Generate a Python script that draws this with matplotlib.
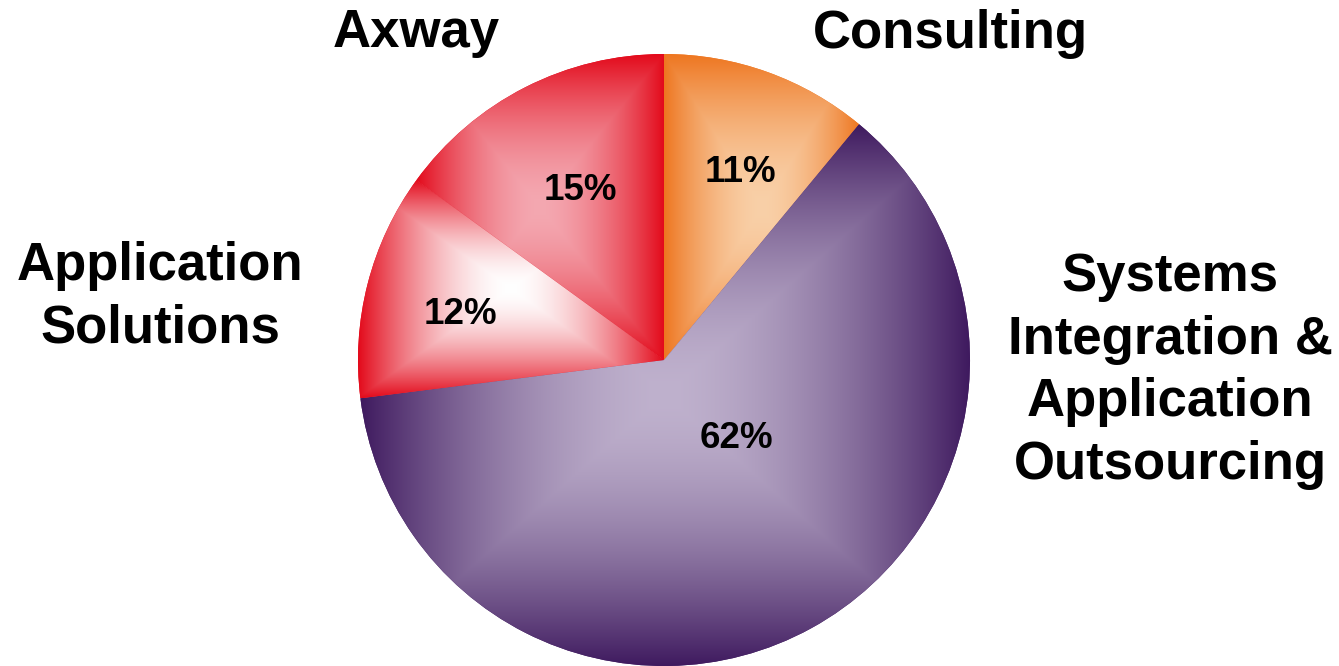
import numpy as np
import matplotlib
matplotlib.use("Agg")
import matplotlib.pyplot as plt
from matplotlib.colors import to_rgb

# ---- data ----
categories = ["Consulting", "Systems\nIntegration &\nApplication\nOutsourcing",
              "Application\nSolutions", "Axway"]
values = [11, 62, 12, 15]
pct_labels = ["11%", "62%", "12%", "15%"]
edge_colors = ["#EE7620", "#3F1A5F", "#E30A1B", "#E30A1B"]
center_colors = ["#F9D0A8", "#BFB1CD", "#FFFFFF", "#F4A8B1"]

W, H = 1339, 666
CX, CY, R = 664, 360, 306  # pixel geometry of pie


def px(x, y):
    return (x - CX) / R, (CY - y) / R


fig = plt.figure(figsize=(W / 100, H / 100), dpi=100)
ax = fig.add_axes([0, 0, 1, 1])
wedges, _ = ax.pie(values, startangle=90, counterclock=False, radius=1,
                   colors=edge_colors, frame=True,
                   wedgeprops=dict(linewidth=0))
ax.set_xlim(px(0, 0)[0], px(W, 0)[0])
ax.set_ylim(px(0, H)[1], px(0, 0)[1])
ax.set_aspect("auto")
ax.axis("off")

for w, c_edge, c_mid in zip(wedges, edge_colors, center_colors):
    bb = w.get_path().get_extents()
    x0, y0, x1, y1 = bb.x0, bb.y0, bb.x1, bb.y1
    n = 400
    xs = np.linspace(x0, x1, n)
    ys = np.linspace(y0, y1, n)
    X, Y = np.meshgrid(xs, ys)
    mx, my = (x0 + x1) / 2, (y0 + y1) / 2
    hw, hh = (x1 - x0) / 2, (y1 - y0) / 2
    t = np.maximum(np.abs(X - mx) / hw, np.abs(Y - my) / hh)
    t = np.clip(t, 0, 1) ** 1.7
    ce = np.array(to_rgb(c_edge))
    cm = np.array(to_rgb(c_mid))
    img = cm[None, None, :] * (1 - t[..., None]) + ce[None, None, :] * t[..., None]
    im = ax.imshow(img, extent=(x0, x1, y0, y1), origin="lower",
                   interpolation="bilinear", zorder=2)
    im.set_clip_path(w)

font = "Liberation Sans"
outer_pos = [(950, 34), (1170, 371), (160, 297), (416, 33)]
pct_pos = [(740, 173), (736, 438), (460, 314), (580, 190)]
for lab, (x, y) in zip(categories, outer_pos):
    ax.text(*px(x, y), lab, ha="center", va="center", fontsize=38,
            fontweight="bold", family=font, linespacing=1.32, zorder=5)
for lab, (x, y) in zip(pct_labels, pct_pos):
    ax.text(*px(x, y), lab, ha="center", va="center", fontsize=26.5,
            fontweight="bold", family=font, zorder=5)

fig.savefig("out.png", dpi=100)
